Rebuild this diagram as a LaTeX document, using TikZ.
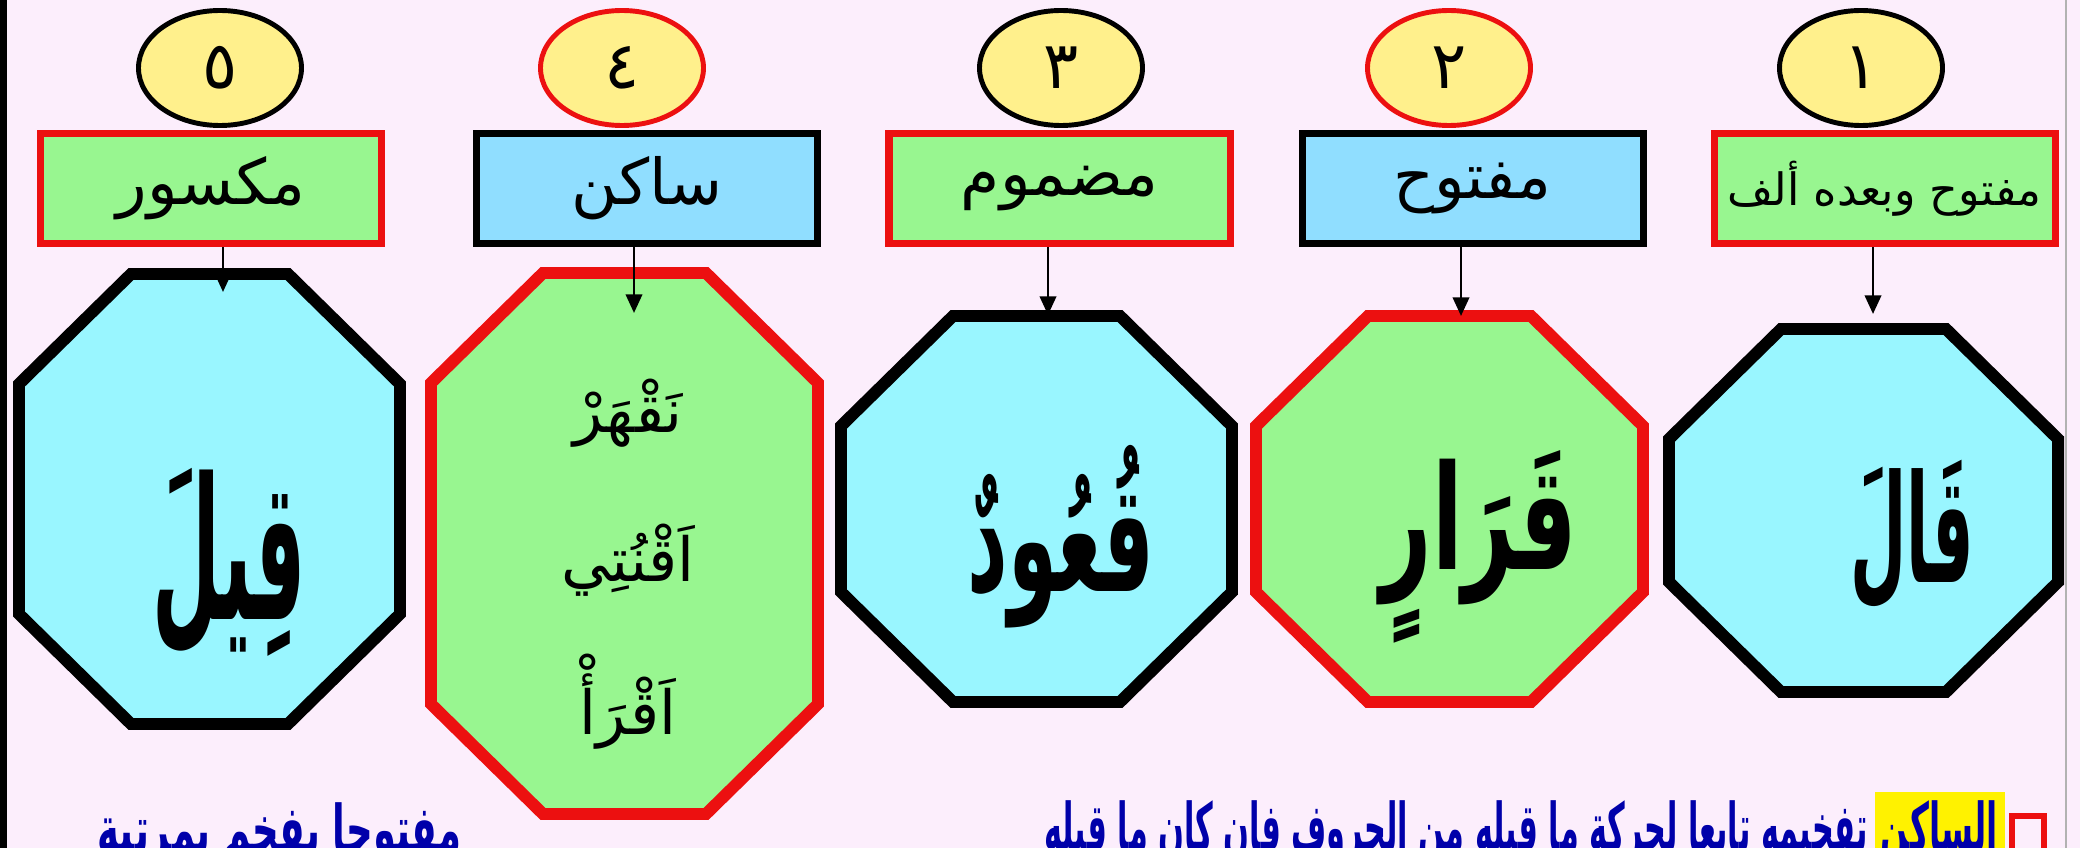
\documentclass[tikz,border=0pt]{standalone}
\usepackage{fontspec}
\usepackage{graphicx}
\usepackage{tikz}
\usetikzlibrary{shapes.geometric,arrows.meta}
\newfontfamily\arabicfont[Script=Arabic]{DejaVu Sans}
\TeXXeTstate=1
\newcommand{\artext}[1]{{\arabicfont\beginR #1\endR}}
% set a text to a given width, height kept
\newcommand{\fitw}[2]{\resizebox{#1}{\height}{#2}}

\definecolor{slidebg}{RGB}{252,238,252}
\definecolor{octcyan}{RGB}{153,246,255}
\definecolor{octgreen}{RGB}{152,246,144}
\definecolor{boxblue}{RGB}{144,222,255}
\definecolor{numyellow}{RGB}{255,240,140}
\definecolor{redline}{RGB}{236,16,16}
\definecolor{navytext}{RGB}{0,0,170}

\tikzset{
	numcirc/.style={ellipse, draw=black, fill=numyellow, line width=2.1pt, minimum width=163*0.015cm, minimum height=115*0.015cm, inner sep=0pt, font=\fontsize{28}{30}\selectfont},
	headbox/.style={rectangle, draw=black, fill=boxblue, line width=3pt, minimum width=341*0.015cm, minimum height=110*0.015cm, inner sep=0pt, font=\fontsize{27}{30}\selectfont},
	octa/.style={line width=5.1pt, line join=miter},
	tip/.style={line width=1.2pt, -{Triangle[length=8pt,width=7pt]}},
	word/.style={inner sep=0pt, font=\bfseries\fontsize{64}{68}\selectfont},
	verse/.style={inner sep=0pt, font=\fontsize{26}{28}\selectfont},
	note/.style={inner sep=0pt, text=navytext, font=\bfseries\fontsize{28}{30}\selectfont}
}

% name, style, left, top, right, bottom
\newcommand{\octagon}[6]{%
	\draw[octa,#2] (#3+112,#4) -- (#5-112,#4) -- (#5,#4+110) -- (#5,#6-110)
		-- (#5-112,#6) -- (#3+112,#6) -- (#3,#6-110) -- (#3,#4+110) -- cycle;
	\coordinate (#1) at ({(#3+#5)/2},{(#4+#6)/2});
}

\begin{document}
\begin{tikzpicture}[x=0.015cm, y=-0.015cm]
		\useasboundingbox (0,0) rectangle (2080,848);
		\clip (0,0) rectangle (2080,848);
		\fill[slidebg] (0,0) rectangle (2080,848);
		\fill[black] (0,0) rectangle (7,848);
		\draw[gray!60, line width=0.8pt] (2066,0) -- (2066,848);

		% octagons
		\octagon{o5}{draw=black, fill=octcyan}{19}{274}{400}{724}
		\octagon{o4}{draw=redline, fill=octgreen}{431}{273}{818}{814}
		\octagon{o3}{draw=black, fill=octcyan}{841}{316}{1232}{702}
		\octagon{o2}{draw=redline, fill=octgreen}{1256}{316}{1643}{702}
		\octagon{o1}{draw=black, fill=octcyan}{1669}{329}{2058}{692}

		\node[word, font=\bfseries\fontsize{84}{88}\selectfont] (w5) at (229,562) {\fitw{2.3cm}{\artext{قِيلَ}}};
		\node[verse] (w4a) at (628,413) {\artext{نَقْهَرْ}};
		\node[verse] (w4b) at (628,560) {\artext{اَقْنُتِي}};
		\node[verse] (w4c) at (628,702) {\artext{اَقْرَأْ}};
		\node[word] (w3) at (1061,537) {\fitw{2.8cm}{\artext{قُعُودٌ}}};
		\node[word, font=\bfseries\fontsize{62}{66}\selectfont] (w2) at (1479,547) {\fitw{2.95cm}{\artext{قَرَارٍ}}};
		\node[word] (w1) at (1912,535) {\fitw{1.85cm}{\artext{قَالَ}}};

		% numbers
		\node[numcirc] (c5) at (220,68) {\artext{٥}};
		\node[numcirc, draw=redline] (c4) at (622,68) {\artext{٤}};
		\node[numcirc] (c3) at (1061,68) {\artext{٣}};
		\node[numcirc, draw=redline] (c2) at (1449,68) {\artext{٢}};
		\node[numcirc] (c1) at (1861,68) {\artext{١}};

		% headings
		\node[headbox, draw=redline, fill=octgreen] (b5) at (211,188.5) {\artext{مكسور}};
		\node[headbox] (b4) at (647,188.5) {\artext{ساكن}};
		\node[headbox, draw=redline, fill=octgreen] (b3) at (1059.5,188.5) {\artext{مضموم}};
		\node[headbox] (b2) at (1472.5,188.5) {\artext{مفتوح}};
		\node[headbox, draw=redline, fill=octgreen, font=\fontsize{19}{21}\selectfont] (b1) at (1884.5,188.5) {\arabicfont\beginR مفتوح وبعده ألف\endR};

		\coordinate (t5) at (223,292);
		\coordinate (t4) at (634,313);
		\coordinate (t3) at (1048,315);
		\coordinate (t2) at (1461,316);
		\coordinate (t1) at (1873,314);
		\draw[tip] (b5.south -| t5) -- (t5);
		\draw[tip] (b4.south -| t4) -- (t4);
		\draw[tip] (b3.south -| t3) -- (t3);
		\draw[tip] (b2.south -| t2) -- (t2);
		\draw[tip] (b1.south -| t1) -- (t1);

		% note line
		\node[draw=redline, line width=2.6pt, fill=slidebg, minimum width=32*0.015cm, minimum height=36*0.015cm, anchor=north] (bul) at (2028,813) {};
		\node[fill=yellow, minimum width=130*0.015cm, minimum height=70*0.015cm, anchor=north east] (hl) at (2005,792) {};
		\node[note, anchor=north east] (key) at (1998,800) {\fitw{1.75cm}{\artext{الساكن}}};
		\node[note, anchor=north east] (rest) at (1868,800) {\fitw{12.35cm}{\arabicfont\beginR تفخيمه تابعا لحركة ما قبله من الحروف فإن كان ما قبله\endR}};
		\node[note, anchor=north east] (rest2) at (462,802) {\fitw{5.46cm}{\arabicfont\beginR مفتوحا يفخم بمرتبة\endR}};
	\end{tikzpicture}
\end{document}
